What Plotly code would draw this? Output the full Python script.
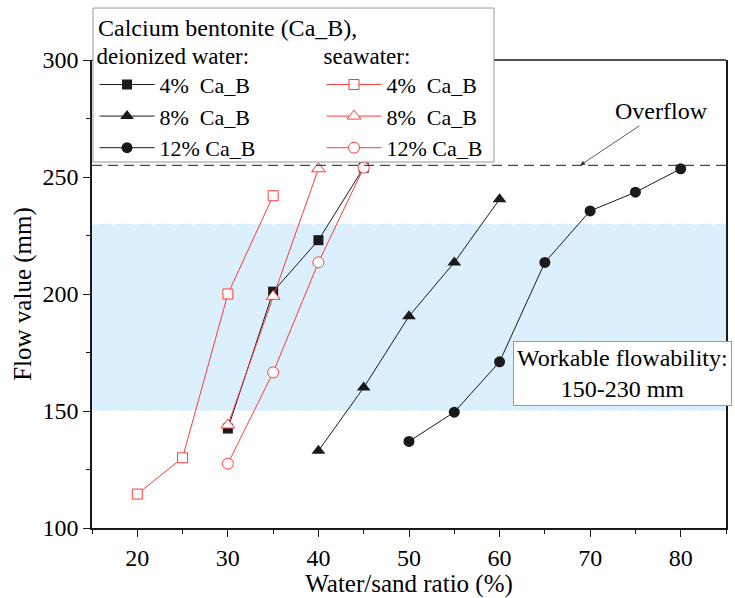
import plotly.graph_objects as go

# ---- data ----
x_di_4 = [30, 35, 40, 45]
y_di_4 = [142.5, 201, 223, 254]
x_di_8 = [40, 45, 50, 55, 60]
y_di_8 = [133, 160, 190.5, 213.5, 240.5]
x_di_12 = [50, 55, 60, 65, 70, 75, 80]
y_di_12 = [137, 149.5, 171, 213.5, 235.5, 243.5, 253.5]

x_sw_4 = [20, 25, 30, 35]
y_sw_4 = [114.5, 130, 200, 242]
x_sw_8 = [30, 35, 40]
y_sw_8 = [144, 199, 253.5]
x_sw_12 = [30, 35, 40, 45]
y_sw_12 = [127.5, 166.5, 213.5, 254]

labels = ["4%\u00a0\u00a0Ca_B", "8%\u00a0\u00a0Ca_B", "12% Ca_B"]
overflow_value = 255
band_low, band_high = 150, 230

FONT = "Liberation Serif, Times New Roman, serif"
BLACK = "#1a1a1a"
RED = "#ff3b3b"

fig = go.Figure()

di_sets = [(x_di_4, y_di_4, "square", 10), (x_di_8, y_di_8, "triangle-up", 12), (x_di_12, y_di_12, "circle", 11)]
sw_sets = [(x_sw_4, y_sw_4, "square", 10), (x_sw_8, y_sw_8, "triangle-up", 12), (x_sw_12, y_sw_12, "circle", 11)]

for (xs, ys, sym, sz), lab in zip(di_sets, labels):
    fig.add_trace(go.Scatter(
        x=xs, y=ys, mode="lines+markers", name=lab, legend="legend",
        line=dict(color=BLACK, width=1),
        marker=dict(symbol=sym, size=sz, color=BLACK, line=dict(width=0)),
    ))
for (xs, ys, sym, sz), lab in zip(sw_sets, labels):
    fig.add_trace(go.Scatter(
        x=xs, y=ys, mode="lines+markers", name=lab, legend="legend2",
        line=dict(color=RED, width=1),
        marker=dict(symbol=sym, size=sz, color="white", line=dict(color=RED, width=1)),
    ))

# workable band
fig.add_shape(type="rect", xref="paper", x0=0, x1=1, yref="y", y0=band_low, y1=band_high,
              fillcolor="#dbeffd", line=dict(width=0), layer="below")
for v in (band_low, band_high):
    fig.add_shape(type="line", xref="paper", x0=0, x1=1, yref="y", y0=v, y1=v,
                  line=dict(color="white", width=1.5, dash="6px,14px"), layer="below")

# overflow line
fig.add_shape(type="line", xref="paper", x0=0, x1=1, yref="y", y0=overflow_value, y1=overflow_value,
              line=dict(color=BLACK, width=1, dash="10px,6px"), layer="above")

# top frame line
fig.add_shape(type="line", xref="paper", x0=0, x1=1, yref="paper", y0=1, y1=1,
              line=dict(color=BLACK, width=1.5), layer="above")

# legend box
fig.add_shape(type="rect", xref="paper", yref="paper",
              x0=0.0016, x1=0.634, y0=0.782, y1=1.111,
              fillcolor="white", line=dict(color="#9a9a9a", width=1), layer="above")

fig.add_annotation(xref="paper", yref="paper", x=0.006, y=1.111 - 0.010, xanchor="left", yanchor="top",
                   text="Calcium bentonite (Ca_B),", showarrow=False,
                   font=dict(family=FONT, size=24, color="black"))

fig.add_annotation(x=68.9, y=overflow_value, ax=81, ay=-54, text="Overflow",
                   showarrow=True, arrowhead=2, arrowsize=1.2, arrowwidth=0.8, arrowcolor="#333",
                   font=dict(family=FONT, size=24, color="black"))

fig.add_annotation(xref="paper", yref="paper", x=0.836, y=0.331, xanchor="center", yanchor="middle",
                   text="Workable flowability:<br>150-230 mm",
                   showarrow=False, bgcolor="white", bordercolor="#9a9a9a", borderwidth=1, borderpad=3,
                   font=dict(family=FONT, size=24, color="black"))

axis_common = dict(showline=True, linecolor=BLACK, linewidth=1.5, ticks="outside", ticklen=7,
                   tickwidth=1.2, tickcolor=BLACK, showgrid=False, zeroline=False,
                   tickfont=dict(family=FONT, size=24, color="black"))

fig.update_xaxes(range=[15, 85], dtick=10, tick0=0,
                 minor=dict(dtick=5, ticklen=4, ticks="outside", tickcolor=BLACK, tickwidth=1.2),
                 title=dict(text="Water/sand ratio (%)", font=dict(family=FONT, size=25, color="black"), standoff=0),
                 mirror=False, **axis_common)
fig.update_yaxes(range=[100, 300], dtick=50, tick0=0,
                 minor=dict(dtick=25, ticklen=4, ticks="outside", tickcolor=BLACK, tickwidth=1.2),
                 title=dict(text="Flow value (mm)", font=dict(family=FONT, size=25, color="black"), standoff=4),
                 mirror=True, **axis_common)

legend_common = dict(bgcolor="rgba(0,0,0,0)", borderwidth=0, itemwidth=55,
                     font=dict(family=FONT, size=22, color="black"),
                     xanchor="left", yanchor="top", tracegroupgap=0, itemclick=False)

fig.update_layout(
    width=735, height=598,
    margin=dict(l=92, r=7, t=60, b=70),
    plot_bgcolor="white", paper_bgcolor="white",
    font=dict(family=FONT, size=22, color="black"),
    legend=dict(x=0.004, y=1.056, title=dict(text="deionized water:", font=dict(family=FONT, size=23)), **legend_common),
    legend2=dict(x=0.362, y=1.056, title=dict(text="seawater:", font=dict(family=FONT, size=23)), **legend_common),
)

fig.write_html("out.html")
